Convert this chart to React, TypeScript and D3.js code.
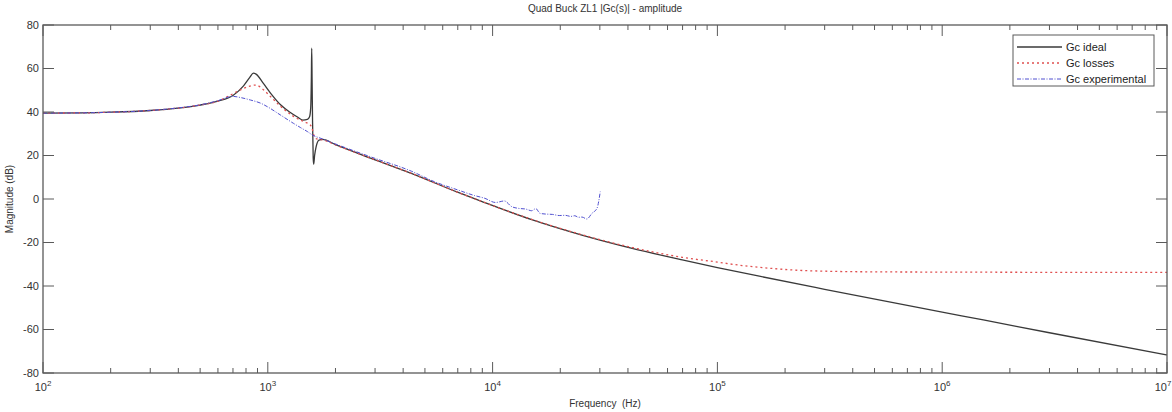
import React from "react";
import * as d3 from "d3";

const idealFreq = [100, 150, 200, 300, 400, 500, 600, 700, 780, 830, 863, 890, 950, 1030, 1143, 1250, 1350, 1431, 1500, 1534, 1552, 1562, 1568, 1574, 1582, 1592, 1600, 1615, 1640, 1690, 1754, 2000, 2883, 4350, 7030, 8930, 14930, 24950, 41750, 69800, 100000, 153600, 300000, 1000000, 1524000, 3000000, 10000000];
const idealDb = [39.5, 39.6, 39.9, 40.7, 41.8, 43.2, 45.0, 47.6, 52.0, 55.8, 57.9, 57.3, 53.5, 48.6, 43.2, 40.0, 37.8, 36.3, 36.6, 37.8, 42, 55, 69.3, 55, 35, 19, 16, 20, 24, 27.1, 27.4, 25.0, 18.7, 11.8, 3.0, -1.1, -9.5, -16.6, -22.7, -28.0, -31.5, -35.5, -41.5, -52.0, -55.6, -61.5, -71.7];

const lossFreq = [100, 150, 200, 300, 400, 500, 600, 682, 783, 884, 950, 1030, 1143, 1300, 1450, 1540, 1570, 1600, 1650, 1754, 2000, 2883, 4350, 7030, 8930, 14930, 24950, 41750, 69800, 100000, 129000, 153600, 256000, 500000, 1000000, 3000000, 10000000];
const lossDb = [39.5, 39.6, 39.9, 40.7, 41.8, 43.2, 45.0, 47.8, 50.9, 52.4, 50.5, 47.0, 42.5, 38.0, 35.5, 34.2, 32.8, 29.5, 27.6, 27.2, 24.9, 18.7, 11.8, 3.0, -1.1, -9.4, -16.4, -22.3, -26.8, -29.0, -30.6, -31.4, -33.0, -33.5, -33.6, -33.7, -33.7];

const expFreq = [100, 150, 200, 300, 400, 500, 600, 696, 760, 838, 932, 997, 1143, 1300, 1400, 1500, 1581, 1754, 2000, 2883, 4350, 5500, 7030, 8300, 9250, 10300, 11280, 12160, 13030, 14000, 14930, 15560, 16260, 17120, 18500, 19800, 21000, 22300, 23200, 24100, 25000, 26250, 27660, 29120, 30130];
const expDb = [39.5, 39.6, 39.9, 40.7, 41.9, 43.3, 45.2, 47.2, 46.6, 45.5, 44.0, 42.4, 38.5, 34.8, 32.8, 31.0, 29.4, 27.6, 25.3, 19.3, 12.8, 8.0, 4.1, 1.6, 0.3, -1.6, -0.9, -3.5, -4.3, -4.6, -5.4, -4.4, -6.6, -6.9, -7.1, -7.6, -7.5, -8.0, -7.7, -8.4, -8.3, -9.2, -6.6, -4.3, 3.4];

const yTicks = [-80, -60, -40, -20, 0, 20, 40, 60, 80];
const xDecades = [2, 3, 4, 5, 6, 7];
const legendLabels = ["Gc ideal", "Gc losses", "Gc experimental"];

const W = 1172;
const H = 412;
const L = 43;
const R = 1167;
const T = 25;
const B = 373;

export default function App() {
  const x = d3.scaleLog().domain([1e2, 1e7]).range([L, R]);
  const y = d3.scaleLinear().domain([-80, 80]).range([B, T]);
  const line = d3
    .line<[number, number]>()
    .x((d) => x(d[0]))
    .y((d) => y(d[1]))
    .curve(d3.curveMonotoneX);
  const zip = (a: number[], b: number[]) => a.map((v, i) => [v, b[i]] as [number, number]);

  const minorTicks: number[] = [];
  for (let e = 2; e < 7; e++) {
    for (let m = 2; m <= 9; m++) minorTicks.push(m * Math.pow(10, e));
  }
  const axisColor = "#5a5a5a";
  const textColor = "#333";
  const font = "'Liberation Sans', Arial, Helvetica, sans-serif";

  const series = [
    { d: zip(idealFreq, idealDb), stroke: "#3a3a3a", dash: undefined as string | undefined, w: 1.3 },
    { d: zip(lossFreq, lossDb), stroke: "#e05050", dash: "2,3", w: 1.3 },
    { d: zip(expFreq, expDb), stroke: "#5050d0", dash: "4,1.5,1,1.5", w: 1 },
  ];

  return (
    <svg
      width={W}
      height={H}
      style={{ position: "absolute", left: 0, top: 0, background: "#fff" }}
      fontFamily={font}
    >
      <rect x={0} y={0} width={W} height={H} fill="#fff" />
      <defs>
        <clipPath id="plotclip">
          <rect x={L} y={T} width={R - L} height={B - T} />
        </clipPath>
      </defs>
      <g clipPath="url(#plotclip)">
        {series.map((s, i) => (
          <path
            key={i}
            d={line(s.d) || ""}
            fill="none"
            stroke={s.stroke}
            strokeWidth={s.w}
            strokeDasharray={s.dash}
            strokeLinejoin="round"
          />
        ))}
      </g>
      <rect x={L} y={T} width={R - L} height={B - T} fill="none" stroke={axisColor} strokeWidth={1.3} />
      {yTicks.map((t) => (
        <g key={t}>
          <line x1={L} x2={L + 11} y1={y(t)} y2={y(t)} stroke={axisColor} />
          <line x1={R} x2={R - 11} y1={y(t)} y2={y(t)} stroke={axisColor} />
          <text x={L - 4} y={y(t)} dy="0.35em" textAnchor="end" fontSize={11} fill={textColor}>
            {t}
          </text>
        </g>
      ))}
      {minorTicks.map((t) => (
        <g key={t}>
          <line x1={x(t)} x2={x(t)} y1={B} y2={B - 5} stroke={axisColor} />
          <line x1={x(t)} x2={x(t)} y1={T} y2={T + 5} stroke={axisColor} />
        </g>
      ))}
      {xDecades.map((e) => {
        const xv = x(Math.pow(10, e));
        const lx = Math.min(xv, W - 9);
        return (
          <g key={e}>
            <line x1={xv} x2={xv} y1={B} y2={B - 11} stroke={axisColor} />
            <line x1={xv} x2={xv} y1={T} y2={T + 11} stroke={axisColor} />
            <text x={lx} y={B + 18} textAnchor="middle" fontSize={11} fill={textColor}>
              10
              <tspan dy={-5} fontSize={8}>
                {e}
              </tspan>
            </text>
          </g>
        );
      })}
      <text x={(L + R) / 2} y={12} textAnchor="middle" fontSize={10} fill={textColor}>
        Quad Buck ZL1 |Gc(s)| - amplitude
      </text>
      <text x={(L + R) / 2} y={407} textAnchor="middle" fontSize={10} fill={textColor} style={{ whiteSpace: "pre" }}>
        {"Frequency  (Hz)"}
      </text>
      <text
        transform={`translate(13, ${(T + B) / 2}) rotate(-90)`}
        textAnchor="middle"
        fontSize={10}
        fill={textColor}
      >
        Magnitude (dB)
      </text>
      <g>
        <rect x={1013} y={35} width={141} height={51} fill="#fff" stroke={axisColor} strokeWidth={1} />
        {legendLabels.map((lab, i) => {
          const ly = 47 + i * 16;
          const s = series[i];
          return (
            <g key={lab}>
              <line x1={1017} x2={1062} y1={ly} y2={ly} stroke={s.stroke} strokeWidth={s.w} strokeDasharray={s.dash} />
              <text x={1066} y={ly} dy="0.35em" fontSize={11} fill="#222">
                {lab}
              </text>
            </g>
          );
        })}
      </g>
    </svg>
  );
}
